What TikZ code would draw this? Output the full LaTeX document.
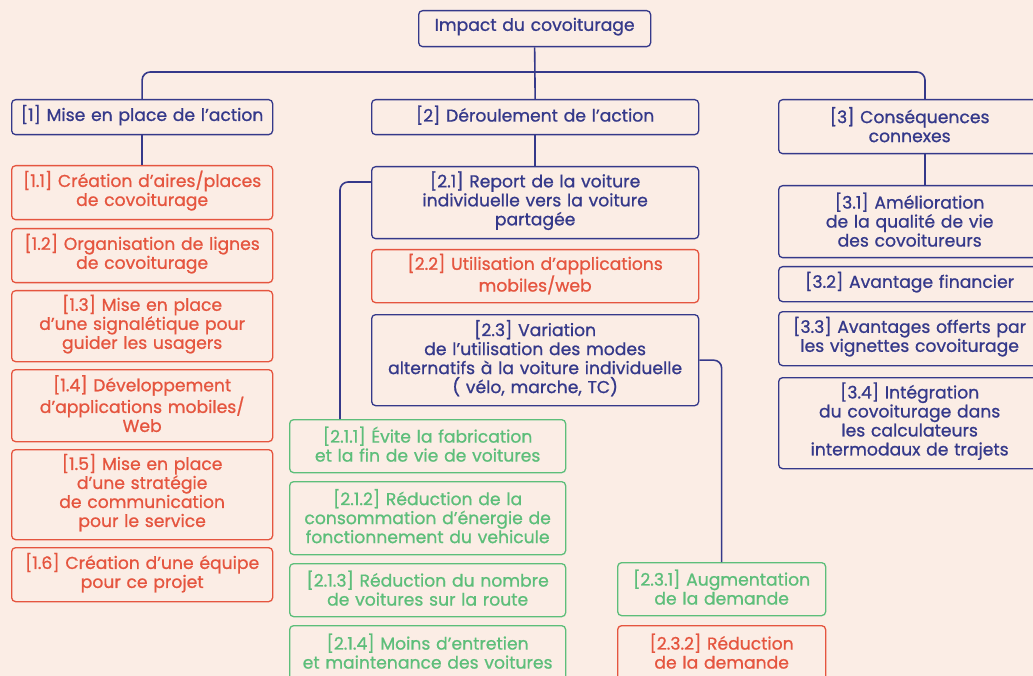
\documentclass[tikz,border=0pt]{standalone}
\usepackage{fontspec}
\setmainfont{Poppins}[FakeBold=0.9]
\usepackage{xcolor}
\usetikzlibrary{positioning}
\definecolor{bgpeach}{HTML}{FBEDE5}
\definecolor{navy}{HTML}{35398A}
\definecolor{coral}{HTML}{E5553F}
\definecolor{leaf}{HTML}{5DBE7A}
\tikzset{
  box/.style={draw, rounded corners=4, line width=1.3pt, align=center, anchor=north west,
    inner xsep=4pt, inner ysep=0pt, font=\fontsize{17.2}{19}\selectfont,
    execute at end node={\par\vspace*{4pt}}},
  navybox/.style={box, draw=navy, text=navy},
  redbox/.style={box, draw=coral, text=coral},
  greenbox/.style={box, draw=leaf, text=leaf},
  link/.style={draw=navy, line width=1.6pt, rounded corners=8},
}
\begin{document}
\begin{tikzpicture}[x=1pt, y=-1pt]
  \fill[bgpeach] (0,0) rectangle (1033,676);
  \useasboundingbox (0,0) rectangle (1033,676);
  \clip (0,0) rectangle (1033,676);
  % top
  \node[navybox, text width=224pt, minimum height=36pt] (root) at (418,10) {Impact du covoiturage};
  \node[navybox, text width=253pt, minimum height=35pt] (n1) at (11,99) {[1] Mise en place de l’action};
  \node[navybox, text width=319pt, minimum height=35pt] (n2) at (371,99) {[2] Déroulement de l’action};
  \node[navybox, text width=254pt, minimum height=54pt] (n3) at (778,99) {[3] Conséquences\\connexes};
  % column 1
  \node[redbox, text width=253pt, minimum height=54pt] (n11) at (11,165) {[1.1] Création d’aires/places\\de covoiturage};
  \node[redbox, text width=253pt, minimum height=54pt] (n12) at (11,228) {[1.2] Organisation de lignes\\de covoiturage};
  \node[redbox, text width=253pt, minimum height=71pt] (n13) at (11,290) {[1.3] Mise en place\\d’une signalétique pour\\guider les usagers};
  \node[redbox, text width=253pt, minimum height=72pt] (n14) at (11,369) {[1.4] Développement\\d’applications mobiles/\\Web};
  \node[redbox, text width=253pt, minimum height=90pt] (n15) at (11,449) {[1.5] Mise en place\\d’une stratégie\\de communication\\pour le service};
  \node[redbox, text width=253pt, minimum height=54pt] (n16) at (11,547) {[1.6] Création d’une équipe\\pour ce projet};
  % column 2
  \node[navybox, text width=319pt, minimum height=72pt] (n21) at (371,166) {[2.1] Report de la voiture\\individuelle vers la voiture\\partagée};
  \node[redbox, text width=319pt, minimum height=53pt] (n22) at (371,249) {[2.2] Utilisation d’applications\\mobiles/web};
  \node[navybox, text width=319pt, minimum height=91pt] (n23) at (371,314) {[2.3] Variation\\de l’utilisation des modes\\alternatifs à la voiture individuelle\\( vélo, marche, TC)};
  \node[greenbox, text width=268pt, minimum height=53pt] (n211) at (289,419) {[2.1.1] Évite la fabrication\\et la fin de vie de voitures};
  \node[greenbox, text width=268pt, minimum height=73pt] (n212) at (289,481) {[2.1.2] Réduction de la\\consommation d’énergie de\\fonctionnement du vehicule};
  \node[greenbox, text width=268pt, minimum height=53pt] (n213) at (289,563) {[2.1.3] Réduction du nombre\\de voitures sur la route};
  \node[greenbox, text width=268pt, minimum height=55pt] (n214) at (289,625) {[2.1.4] Moins d’entretien\\et maintenance des voitures};
  \node[greenbox, text width=200pt, minimum height=53pt] (n231) at (617,562) {[2.3.1] Augmentation\\de la demande};
  \node[redbox, text width=200pt, minimum height=55pt] (n232) at (617,625) {[2.3.2] Réduction\\de la demande};
  % column 3
  \node[navybox, text width=254pt, minimum height=72pt] (n31) at (778,185) {[3.1] Amélioration\\de la qualité de vie\\des covoitureurs};
  \node[navybox, text width=254pt, minimum height=35pt] (n32) at (778,266) {[3.2] Avantage financier};
  \node[navybox, text width=254pt, minimum height=54pt] (n33) at (778,311) {[3.3] Avantages offerts par\\les vignettes covoiturage};
  \node[navybox, text width=254pt, minimum height=91pt] (n34) at (778,377) {[3.4] Intégration\\du covoiturage dans\\les calculateurs\\intermodaux de trajets};
  % connectors
  \coordinate (bus) at (534,72);
  \draw[link] (root.south) -- (n2.north);
  \draw[link] (n1.north) |- (bus) -| ([xshift=147pt]n3.north west);
  \draw[link] (n1.south) -- (n11.north);
  \draw[link] (n2.south) -- (n21.north);
  \draw[link] ([yshift=-16pt]n21.north west) -| ([xshift=51pt]n211.north west);
  \draw[link] (n23.east) -| (n231.north);
  \draw[link] ([xshift=147pt]n3.south west) -- ([xshift=147pt]n31.north west);
\end{tikzpicture}
\end{document}
